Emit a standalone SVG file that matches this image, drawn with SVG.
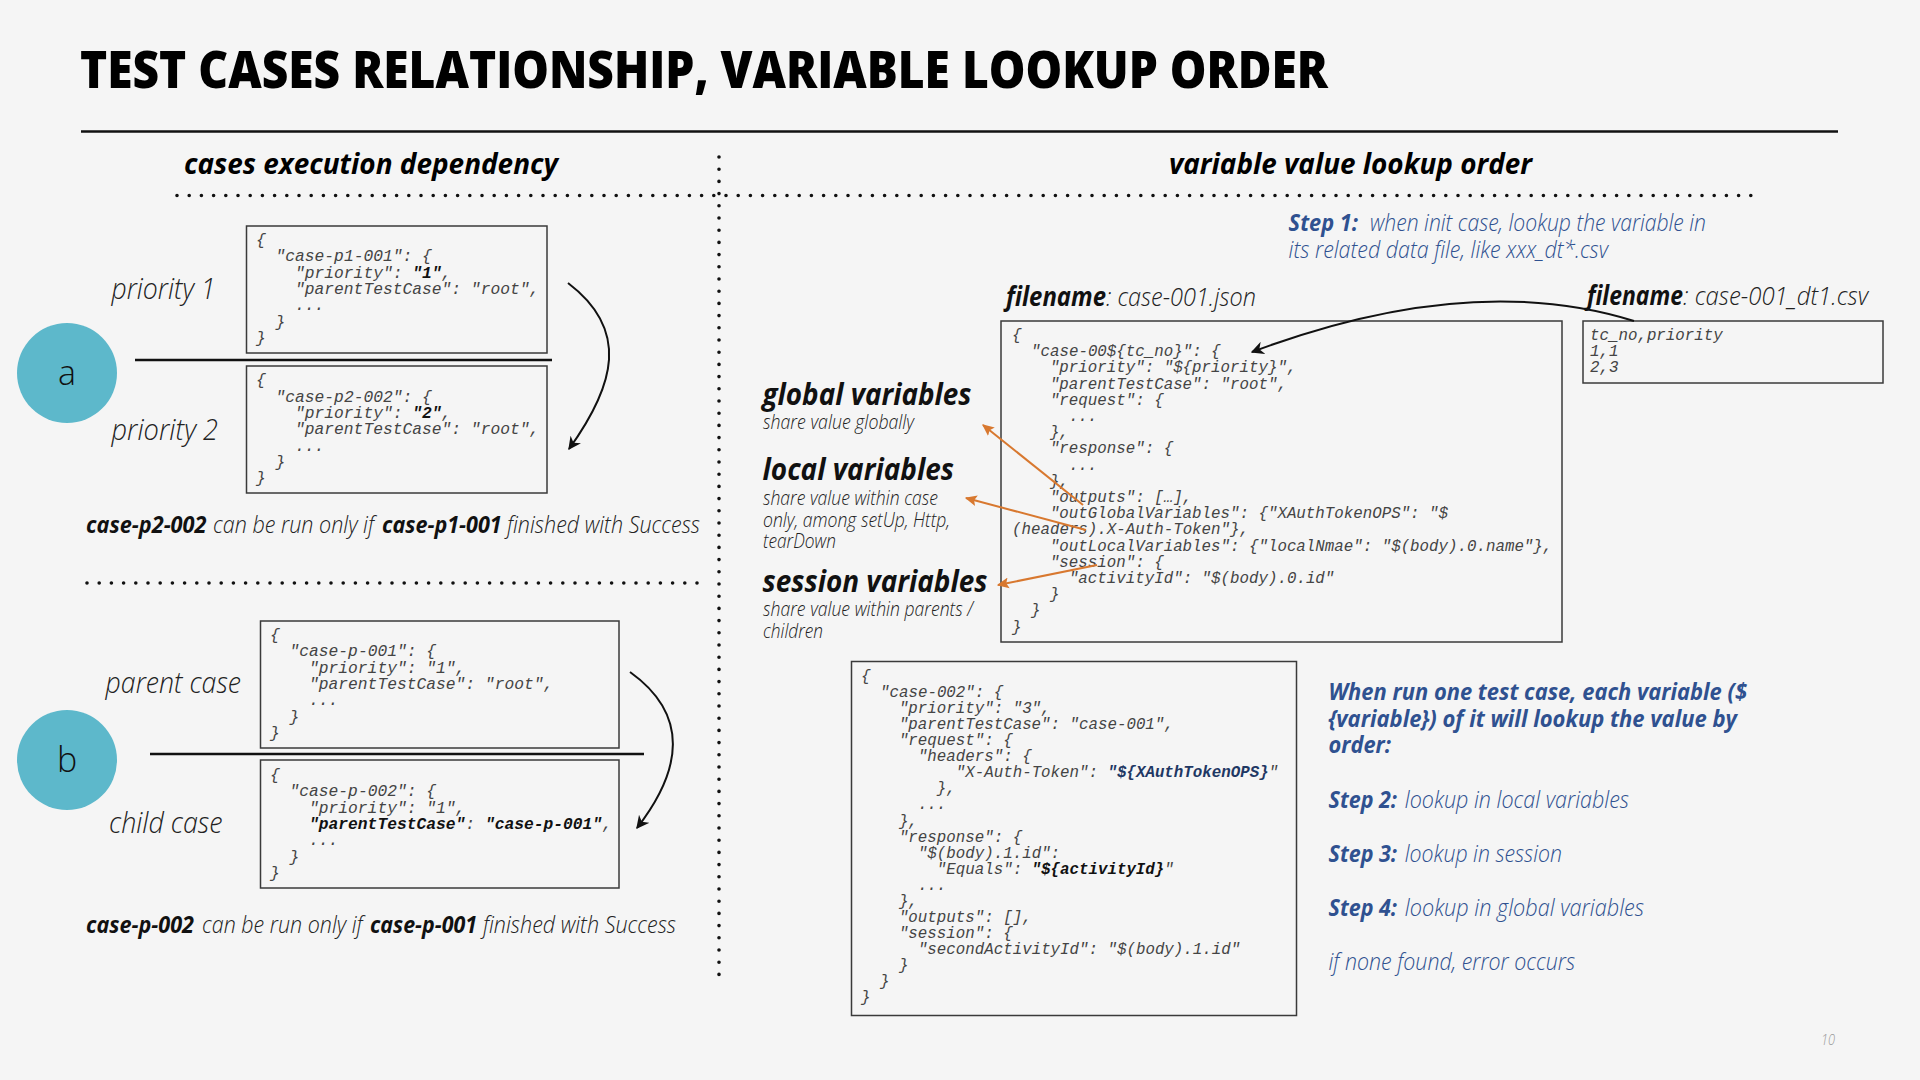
<svg xmlns="http://www.w3.org/2000/svg" width="1920" height="1080" viewBox="0 0 1920 1080">
<defs>
<style>
.bg{fill:#f5f5f5}
.title{font-family:"Open Sans","Liberation Sans",sans-serif;font-weight:800;font-size:52px;fill:#000}
.hdr{font-family:"Open Sans","Liberation Sans",sans-serif;font-weight:700;font-style:italic;font-size:28px;fill:#000}
.bi{font-family:"Open Sans","Liberation Sans",sans-serif;font-weight:700;font-style:italic;fill:#111}
.lt{font-family:"Open Sans","Liberation Sans",sans-serif;font-weight:300;font-style:italic;fill:#222}
.blue{fill:#2f5190}
.code{font-family:"Liberation Mono","Courier New",monospace;font-style:italic;font-size:16.3px;fill:#444}
.codeR{font-family:"Liberation Mono","Courier New",monospace;font-style:italic;font-size:15.8px;fill:#444}
.b{font-weight:700}
.box{fill:none;stroke:#3a3a3a;stroke-width:1.5}
.rule{stroke:#111;stroke-width:2.5}
.dots{stroke:#111;stroke-width:3.6;stroke-linecap:round;stroke-dasharray:0 12.2;fill:none}
.circ{fill:#5db8cb}
.letter{font-family:"Open Sans","Liberation Sans",sans-serif;font-weight:300;font-size:34px;fill:#111}
.arr{fill:none;stroke:#111;stroke-width:2}
.oarr{fill:none;stroke:#d8782f;stroke-width:2}
</style>
<marker id="ah" viewBox="0 0 10 10" refX="9" refY="5" markerWidth="13" markerHeight="13" markerUnits="userSpaceOnUse" orient="auto">
<path d="M0,0 L10,5 L0,10 L3,5 Z" fill="#111"/>
</marker>
<marker id="oh" viewBox="0 0 10 10" refX="9" refY="5" markerWidth="12" markerHeight="12" markerUnits="userSpaceOnUse" orient="auto">
<path d="M0,0.5 L10,5 L0,9.5 L2,5 Z" fill="#d8782f"/>
</marker>
</defs>
<rect class="bg" x="0" y="0" width="1920" height="1080"/>

<g id="header">
<text class="title" x="80" y="88" textLength="1248" lengthAdjust="spacingAndGlyphs">TEST CASES RELATIONSHIP, VARIABLE LOOKUP ORDER</text>
<line class="rule" x1="81" y1="131.5" x2="1838" y2="131.5"/>
<text class="hdr" x="184" y="174" textLength="374" lengthAdjust="spacingAndGlyphs">cases execution dependency</text>
<text class="hdr" x="1169" y="174" textLength="363" lengthAdjust="spacingAndGlyphs">variable value lookup order</text>
<line class="dots" x1="177" y1="195.5" x2="1751" y2="195.5"/>
<line class="dots" x1="719" y1="157" x2="719" y2="986"/>
<line class="dots" x1="87" y1="583" x2="702" y2="583"/>
</g>

<g id="group-a">
<circle class="circ" cx="67" cy="373" r="50"/>
<text class="letter" x="67" y="385" text-anchor="middle">a</text>
<text class="lt" x="111.5" y="299" font-size="29" textLength="104" lengthAdjust="spacingAndGlyphs">priority 1</text>
<text class="lt" x="111.5" y="440" font-size="29" textLength="106.5" lengthAdjust="spacingAndGlyphs">priority 2</text>
<line class="rule" x1="135" y1="360" x2="552" y2="360"/>
</g>

<g id="case-p1-001">
<rect class="box" x="246.5" y="226" width="300.5" height="127"/>
<text class="code" x="256" y="245">{</text>
<text class="code" x="275.5" y="261.3">"case-p1-001": {</text>
<text class="code" x="295" y="277.6">"priority": <tspan class="b" fill="#111">"1"</tspan>,</text>
<text class="code" x="295" y="293.9">"parentTestCase": "root",</text>
<text class="code" x="295" y="310.2">...</text>
<text class="code" x="275.5" y="326.5">}</text>
<text class="code" x="256" y="342.8">}</text>
</g>

<g id="case-p2-002">
<rect class="box" x="246.5" y="366" width="300.5" height="127"/>
<text class="code" x="256" y="385.4">{</text>
<text class="code" x="275.5" y="401.7">"case-p2-002": {</text>
<text class="code" x="295" y="418">"priority": <tspan class="b" fill="#111">"2"</tspan>,</text>
<text class="code" x="295" y="434.3">"parentTestCase": "root",</text>
<text class="code" x="295" y="450.6">...</text>
<text class="code" x="275.5" y="466.9">}</text>
<text class="code" x="256" y="483.2">}</text>
</g>

<g id="caption-a">
<text class="bi" x="86" y="533" font-size="23" textLength="120.5" lengthAdjust="spacingAndGlyphs">case-p2-002</text>
<text class="lt" x="213" y="533" font-size="23" textLength="161" lengthAdjust="spacingAndGlyphs">can be run only if</text>
<text class="bi" x="382" y="533" font-size="23" textLength="119.7" lengthAdjust="spacingAndGlyphs">case-p1-001</text>
<text class="lt" x="507" y="533" font-size="23" textLength="193" lengthAdjust="spacingAndGlyphs">finished with Success</text>
</g>

<g id="group-b">
<circle class="circ" cx="67" cy="760" r="50"/>
<text class="letter" x="67" y="772" text-anchor="middle">b</text>
<text class="lt" x="105.6" y="693" font-size="29" textLength="135.4" lengthAdjust="spacingAndGlyphs">parent case</text>
<text class="lt" x="109" y="833" font-size="29" textLength="113.6" lengthAdjust="spacingAndGlyphs">child case</text>
<line class="rule" x1="150" y1="754" x2="644" y2="754"/>
</g>

<g id="case-p-001">
<rect class="box" x="260.5" y="621" width="358.5" height="127"/>
<text class="code" x="270" y="640">{</text>
<text class="code" x="289.5" y="656.3">"case-p-001": {</text>
<text class="code" x="309" y="672.6">"priority": "1",</text>
<text class="code" x="309" y="688.9">"parentTestCase": "root",</text>
<text class="code" x="309" y="705.2">...</text>
<text class="code" x="289.5" y="721.5">}</text>
<text class="code" x="270" y="737.8">}</text>
</g>

<g id="case-p-002">
<rect class="box" x="260.5" y="760" width="358.5" height="128"/>
<text class="code" x="270" y="780">{</text>
<text class="code" x="289.5" y="796.3">"case-p-002": {</text>
<text class="code" x="309" y="812.6">"priority": "1",</text>
<text class="code" x="309" y="828.9"><tspan class="b" fill="#111">"parentTestCase"</tspan>: <tspan class="b" fill="#111">"case-p-001"</tspan>,</text>
<text class="code" x="309" y="845.2">...</text>
<text class="code" x="289.5" y="861.5">}</text>
<text class="code" x="270" y="877.8">}</text>
</g>

<g id="caption-b">
<text class="bi" x="86" y="933" font-size="23" textLength="108" lengthAdjust="spacingAndGlyphs">case-p-002</text>
<text class="lt" x="202" y="933" font-size="23" textLength="160.6" lengthAdjust="spacingAndGlyphs">can be run only if</text>
<text class="bi" x="370" y="933" font-size="23" textLength="107" lengthAdjust="spacingAndGlyphs">case-p-001</text>
<text class="lt" x="483" y="933" font-size="23" textLength="193" lengthAdjust="spacingAndGlyphs">finished with Success</text>
</g>

<g id="step1">
<text class="bi blue" x="1288.6" y="231" font-size="23" textLength="69.4" lengthAdjust="spacingAndGlyphs">Step 1:</text>
<text class="lt blue" x="1370" y="231" font-size="23" textLength="336" lengthAdjust="spacingAndGlyphs">when init case, lookup the variable in</text>
<text class="lt blue" x="1288.6" y="258" font-size="23" textLength="319.4" lengthAdjust="spacingAndGlyphs">its related data file, like xxx_dt*.csv</text>
</g>

<g id="case-001-json">
<text class="bi" x="1006" y="306" font-size="26" textLength="100" lengthAdjust="spacingAndGlyphs">filename</text>
<text class="lt" x="1106" y="306" font-size="26" textLength="150" lengthAdjust="spacingAndGlyphs">: case-001.json</text>
<rect class="box" x="1001" y="321" width="561" height="321"/>
<text class="codeR" x="1012" y="340">{</text>
<text class="codeR" x="1031" y="356.2">"case-00${tc_no}": {</text>
<text class="codeR" x="1049.9" y="372.4">"priority": "${priority}",</text>
<text class="codeR" x="1049.9" y="388.6">"parentTestCase": "root",</text>
<text class="codeR" x="1049.9" y="404.8">"request": {</text>
<text class="codeR" x="1068.9" y="421">...</text>
<text class="codeR" x="1049.9" y="437.2">},</text>
<text class="codeR" x="1049.9" y="453.4">"response": {</text>
<text class="codeR" x="1068.9" y="469.6">...</text>
<text class="codeR" x="1049.9" y="485.8">},</text>
<text class="codeR" x="1049.9" y="502">"outputs": […],</text>
<text class="codeR" x="1049.9" y="518.2">"outGlobalVariables": {"XAuthTokenOPS": "$</text>
<text class="codeR" x="1012" y="534.4">(headers).X-Auth-Token"},</text>
<text class="codeR" x="1049.9" y="550.6">"outLocalVariables": {"localNmae": "$(body).0.name"},</text>
<text class="codeR" x="1049.9" y="566.8">"session": {</text>
<text class="codeR" x="1068.9" y="583">"activityId": "$(body).0.id"</text>
<text class="codeR" x="1049.9" y="599.2">}</text>
<text class="codeR" x="1031" y="615.4">}</text>
<text class="codeR" x="1012" y="631.6">}</text>
</g>

<g id="case-001-dt1-csv">
<text class="bi" x="1587" y="305" font-size="26" textLength="96" lengthAdjust="spacingAndGlyphs">filename</text>
<text class="lt" x="1683" y="305" font-size="26" textLength="185" lengthAdjust="spacingAndGlyphs">: case-001_dt1.csv</text>
<rect class="box" x="1583" y="321" width="300" height="62"/>
<text class="codeR" x="1590" y="340">tc_no,priority</text>
<text class="codeR" x="1590" y="356">1,1</text>
<text class="codeR" x="1590" y="372">2,3</text>
</g>

<g id="global-variables">
<text class="bi" x="762.5" y="405" font-size="30" textLength="209" lengthAdjust="spacingAndGlyphs">global variables</text>
<text class="lt" x="763" y="429" font-size="20.5" textLength="151" lengthAdjust="spacingAndGlyphs">share value globally</text>
</g>
<g id="local-variables">
<text class="bi" x="762.5" y="480" font-size="30" textLength="191.5" lengthAdjust="spacingAndGlyphs">local variables</text>
<text class="lt" x="763" y="505" font-size="20.5" textLength="175" lengthAdjust="spacingAndGlyphs">share value within case</text>
<text class="lt" x="763" y="527" font-size="20.5" textLength="187" lengthAdjust="spacingAndGlyphs">only, among setUp, Http,</text>
<text class="lt" x="763" y="548" font-size="20.5" textLength="73" lengthAdjust="spacingAndGlyphs">tearDown</text>
</g>
<g id="session-variables">
<text class="bi" x="762.5" y="592" font-size="30" textLength="225" lengthAdjust="spacingAndGlyphs">session variables</text>
<text class="lt" x="763" y="616" font-size="20.5" textLength="210" lengthAdjust="spacingAndGlyphs">share value within parents /</text>
<text class="lt" x="763" y="638" font-size="20.5" textLength="60" lengthAdjust="spacingAndGlyphs">children</text>
</g>

<g id="case-002">
<rect class="box" x="851.5" y="661.5" width="445" height="354"/>
<text class="codeR" x="861" y="681">{</text>
<text class="codeR" x="880" y="697">"case-002": {</text>
<text class="codeR" x="898.9" y="713.1">"priority": "3",</text>
<text class="codeR" x="898.9" y="729.2">"parentTestCase": "case-001",</text>
<text class="codeR" x="898.9" y="745.2">"request": {</text>
<text class="codeR" x="917.9" y="761.3">"headers": {</text>
<text class="codeR" x="955.8" y="777.3">"X-Auth-Token": <tspan class="b" fill="#1f3864">"${XAuthTokenOPS}</tspan>"</text>
<text class="codeR" x="936.8" y="793.4">},</text>
<text class="codeR" x="917.9" y="809.4">...</text>
<text class="codeR" x="898.9" y="825.5">},</text>
<text class="codeR" x="898.9" y="841.5">"response": {</text>
<text class="codeR" x="917.9" y="857.6">"$(body).1.id":</text>
<text class="codeR" x="936.8" y="873.6">"Equals": <tspan class="b" fill="#111">"${activityId}</tspan>"</text>
<text class="codeR" x="917.9" y="889.7">...</text>
<text class="codeR" x="898.9" y="905.7">},</text>
<text class="codeR" x="898.9" y="921.8">"outputs": [],</text>
<text class="codeR" x="898.9" y="937.8">"session": {</text>
<text class="codeR" x="917.9" y="953.9">"secondActivityId": "$(body).1.id"</text>
<text class="codeR" x="898.9" y="969.9">}</text>
<text class="codeR" x="880" y="986">}</text>
<text class="codeR" x="861" y="1002">}</text>
</g>

<g id="lookup-order">
<text class="bi blue" x="1328.5" y="700" font-size="23" textLength="418.5" lengthAdjust="spacingAndGlyphs">When run one test case, each variable ($</text>
<text class="bi blue" x="1328.5" y="727" font-size="23" textLength="408.5" lengthAdjust="spacingAndGlyphs">{variable}) of it will lookup the value by</text>
<text class="bi blue" x="1328.5" y="753" font-size="23" textLength="62.5" lengthAdjust="spacingAndGlyphs">order:</text>
<text class="bi blue" x="1328.5" y="808" font-size="23" textLength="68.5" lengthAdjust="spacingAndGlyphs">Step 2:</text>
<text class="lt blue" x="1404.8" y="808" font-size="23" textLength="224.2" lengthAdjust="spacingAndGlyphs">lookup in local variables</text>
<text class="bi blue" x="1328.5" y="862" font-size="23" textLength="68.5" lengthAdjust="spacingAndGlyphs">Step 3:</text>
<text class="lt blue" x="1404.8" y="862" font-size="23" textLength="157.2" lengthAdjust="spacingAndGlyphs">lookup in session</text>
<text class="bi blue" x="1328.5" y="916" font-size="23" textLength="68.5" lengthAdjust="spacingAndGlyphs">Step 4:</text>
<text class="lt blue" x="1404.8" y="916" font-size="23" textLength="239.2" lengthAdjust="spacingAndGlyphs">lookup in global variables</text>
<text class="lt blue" x="1328.5" y="970" font-size="23" textLength="246.5" lengthAdjust="spacingAndGlyphs">if none found, error occurs</text>
</g>

<g id="page-number">
<text class="lt" x="1821" y="1045" font-size="14" style="fill:#999" textLength="14" lengthAdjust="spacingAndGlyphs">10</text>
</g>

<g id="connectors">
<path class="arr" d="M568,283 C630,330 615,385 569,449" marker-end="url(#ah)"/>
<path class="arr" d="M630,672 C690,715 682,770 637,828" marker-end="url(#ah)"/>
<path class="arr" d="M1634,321 Q1470,270 1252,352" marker-end="url(#ah)"/>
<line class="oarr" x1="1083" y1="505" x2="983" y2="425" marker-end="url(#oh)"/>
<line class="oarr" x1="1086" y1="530" x2="966" y2="498" marker-end="url(#oh)"/>
<line class="oarr" x1="1097" y1="565" x2="998" y2="585" marker-end="url(#oh)"/>
</g>
</svg>
